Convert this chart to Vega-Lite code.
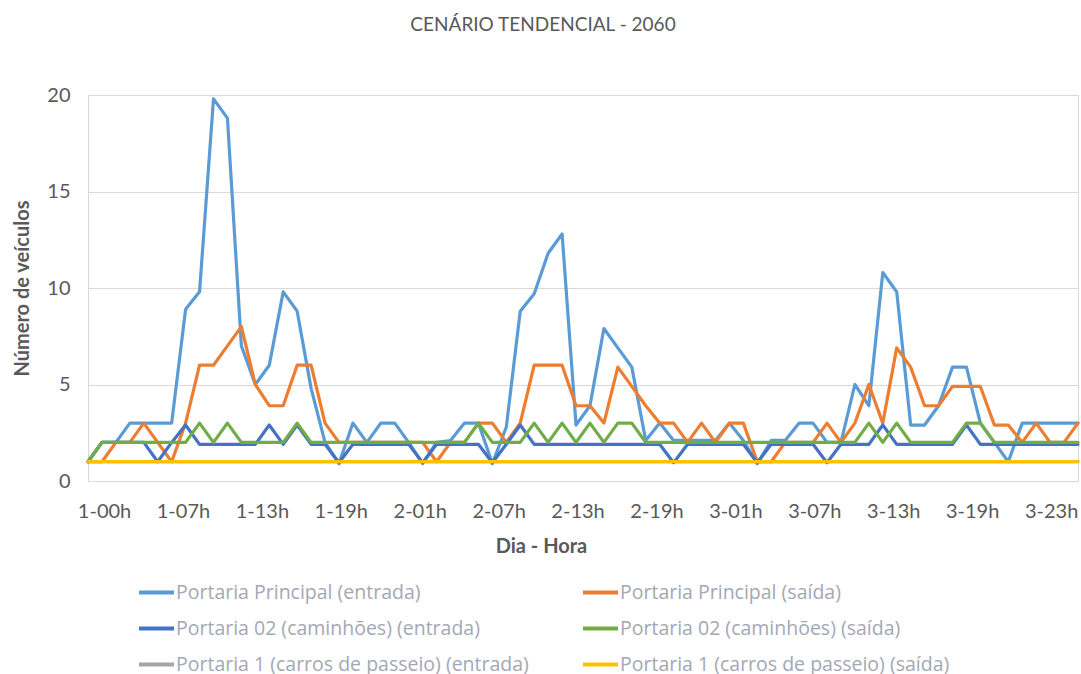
{
  "$schema": "https://vega.github.io/schema/vega-lite/v6.json",
  "width": 990,
  "height": 386,
  "autosize": {"type": "none"},
  "padding": {"left": 88, "top": 95, "right": 3, "bottom": 193},
  "background": "white",
  "config": {"font": "Lato", "view": {"stroke": "#D9D9D9", "strokeWidth": 1}},
  "title": {"text": "CENÁRIO TENDENCIAL - 2060", "fontSize": 19, "fontWeight": "normal", "color": "#595959", "anchor": "middle", "dx": -40, "offset": 50, "font": "Lato"},
  "data": {"values": [
    {"t":0,"pe":1,"ps":1,"ce":1,"cs":1,"p1e":1,"p1s":1},
    {"t":1,"pe":2,"ps":1,"ce":2,"cs":2,"p1e":1,"p1s":1},
    {"t":2,"pe":2,"ps":2,"ce":2,"cs":2,"p1e":1,"p1s":1},
    {"t":3,"pe":3,"ps":2,"ce":2,"cs":2,"p1e":1,"p1s":1},
    {"t":4,"pe":3,"ps":3,"ce":2,"cs":2,"p1e":1,"p1s":1},
    {"t":5,"pe":3,"ps":2,"ce":1,"cs":2,"p1e":1,"p1s":1},
    {"t":6,"pe":3,"ps":1,"ce":2,"cs":2,"p1e":1,"p1s":1},
    {"t":7,"pe":8.9,"ps":3,"ce":2.9,"cs":2,"p1e":1,"p1s":1},
    {"t":8,"pe":9.8,"ps":6,"ce":1.9,"cs":3,"p1e":1,"p1s":1},
    {"t":9,"pe":19.8,"ps":6,"ce":1.9,"cs":2,"p1e":1,"p1s":1},
    {"t":10,"pe":18.8,"ps":7,"ce":1.9,"cs":3,"p1e":1,"p1s":1},
    {"t":11,"pe":7,"ps":8,"ce":1.9,"cs":2,"p1e":1,"p1s":1},
    {"t":12,"pe":5,"ps":5,"ce":1.9,"cs":2,"p1e":1,"p1s":1},
    {"t":13,"pe":6,"ps":3.9,"ce":2.9,"cs":2,"p1e":1,"p1s":1},
    {"t":14,"pe":9.8,"ps":3.9,"ce":1.9,"cs":2,"p1e":1,"p1s":1},
    {"t":15,"pe":8.8,"ps":6,"ce":2.9,"cs":3,"p1e":1,"p1s":1},
    {"t":16,"pe":4.8,"ps":6,"ce":1.9,"cs":2,"p1e":1,"p1s":1},
    {"t":17,"pe":2,"ps":3,"ce":1.9,"cs":2,"p1e":1,"p1s":1},
    {"t":18,"pe":0.9,"ps":2,"ce":0.95,"cs":2,"p1e":1,"p1s":1},
    {"t":19,"pe":3,"ps":2,"ce":1.9,"cs":2,"p1e":1,"p1s":1},
    {"t":20,"pe":2,"ps":2,"ce":1.9,"cs":2,"p1e":1,"p1s":1},
    {"t":21,"pe":3,"ps":2,"ce":1.9,"cs":2,"p1e":1,"p1s":1},
    {"t":22,"pe":3,"ps":2,"ce":1.9,"cs":2,"p1e":1,"p1s":1},
    {"t":23,"pe":2,"ps":2,"ce":1.9,"cs":2,"p1e":1,"p1s":1},
    {"t":24,"pe":0.9,"ps":2,"ce":0.95,"cs":2,"p1e":1,"p1s":1},
    {"t":25,"pe":2,"ps":1,"ce":1.9,"cs":2,"p1e":1,"p1s":1},
    {"t":26,"pe":2.1,"ps":2,"ce":1.9,"cs":2,"p1e":1,"p1s":1},
    {"t":27,"pe":3,"ps":2,"ce":1.9,"cs":2,"p1e":1,"p1s":1},
    {"t":28,"pe":3,"ps":3,"ce":1.9,"cs":3,"p1e":1,"p1s":1},
    {"t":29,"pe":0.9,"ps":3,"ce":0.95,"cs":2,"p1e":1,"p1s":1},
    {"t":30,"pe":2.8,"ps":2,"ce":1.9,"cs":2,"p1e":1,"p1s":1},
    {"t":31,"pe":8.8,"ps":3,"ce":2.9,"cs":2,"p1e":1,"p1s":1},
    {"t":32,"pe":9.7,"ps":6,"ce":1.9,"cs":3,"p1e":1,"p1s":1},
    {"t":33,"pe":11.8,"ps":6,"ce":1.9,"cs":2,"p1e":1,"p1s":1},
    {"t":34,"pe":12.8,"ps":6,"ce":1.9,"cs":3,"p1e":1,"p1s":1},
    {"t":35,"pe":2.9,"ps":3.9,"ce":1.9,"cs":2,"p1e":1,"p1s":1},
    {"t":36,"pe":3.9,"ps":3.9,"ce":1.9,"cs":3,"p1e":1,"p1s":1},
    {"t":37,"pe":7.9,"ps":3,"ce":1.9,"cs":2,"p1e":1,"p1s":1},
    {"t":38,"pe":6.9,"ps":5.9,"ce":1.9,"cs":3,"p1e":1,"p1s":1},
    {"t":39,"pe":5.9,"ps":4.9,"ce":1.9,"cs":3,"p1e":1,"p1s":1},
    {"t":40,"pe":2.1,"ps":3.9,"ce":1.9,"cs":2,"p1e":1,"p1s":1},
    {"t":41,"pe":3,"ps":3,"ce":1.9,"cs":2,"p1e":1,"p1s":1},
    {"t":42,"pe":2.1,"ps":3,"ce":0.95,"cs":2,"p1e":1,"p1s":1},
    {"t":43,"pe":2.1,"ps":2,"ce":1.9,"cs":2,"p1e":1,"p1s":1},
    {"t":44,"pe":2.1,"ps":3,"ce":1.9,"cs":2,"p1e":1,"p1s":1},
    {"t":45,"pe":2.1,"ps":2,"ce":1.9,"cs":2,"p1e":1,"p1s":1},
    {"t":46,"pe":3,"ps":3,"ce":1.9,"cs":2,"p1e":1,"p1s":1},
    {"t":47,"pe":2.1,"ps":3,"ce":1.9,"cs":2,"p1e":1,"p1s":1},
    {"t":48,"pe":0.9,"ps":1,"ce":0.95,"cs":2,"p1e":1,"p1s":1},
    {"t":49,"pe":2.1,"ps":1,"ce":1.9,"cs":2,"p1e":1,"p1s":1},
    {"t":50,"pe":2.1,"ps":2,"ce":1.9,"cs":2,"p1e":1,"p1s":1},
    {"t":51,"pe":3,"ps":2,"ce":1.9,"cs":2,"p1e":1,"p1s":1},
    {"t":52,"pe":3,"ps":2,"ce":1.9,"cs":2,"p1e":1,"p1s":1},
    {"t":53,"pe":2,"ps":3,"ce":0.95,"cs":2,"p1e":1,"p1s":1},
    {"t":54,"pe":2,"ps":2,"ce":1.9,"cs":2,"p1e":1,"p1s":1},
    {"t":55,"pe":5,"ps":3,"ce":1.9,"cs":2,"p1e":1,"p1s":1},
    {"t":56,"pe":3.9,"ps":5,"ce":1.9,"cs":3,"p1e":1,"p1s":1},
    {"t":57,"pe":10.8,"ps":3,"ce":2.9,"cs":2,"p1e":1,"p1s":1},
    {"t":58,"pe":9.8,"ps":6.9,"ce":1.9,"cs":3,"p1e":1,"p1s":1},
    {"t":59,"pe":2.9,"ps":5.9,"ce":1.9,"cs":2,"p1e":1,"p1s":1},
    {"t":60,"pe":2.9,"ps":3.9,"ce":1.9,"cs":2,"p1e":1,"p1s":1},
    {"t":61,"pe":3.9,"ps":3.9,"ce":1.9,"cs":2,"p1e":1,"p1s":1},
    {"t":62,"pe":5.9,"ps":4.9,"ce":1.9,"cs":2,"p1e":1,"p1s":1},
    {"t":63,"pe":5.9,"ps":4.9,"ce":2.9,"cs":3,"p1e":1,"p1s":1},
    {"t":64,"pe":3,"ps":4.9,"ce":1.9,"cs":3,"p1e":1,"p1s":1},
    {"t":65,"pe":2,"ps":2.9,"ce":1.9,"cs":2,"p1e":1,"p1s":1},
    {"t":66,"pe":1,"ps":2.9,"ce":1.9,"cs":2,"p1e":1,"p1s":1},
    {"t":67,"pe":3,"ps":2,"ce":1.9,"cs":2,"p1e":1,"p1s":1},
    {"t":68,"pe":3,"ps":3,"ce":1.9,"cs":2,"p1e":1,"p1s":1},
    {"t":69,"pe":3,"ps":2,"ce":1.9,"cs":2,"p1e":1,"p1s":1},
    {"t":70,"pe":3,"ps":2,"ce":1.9,"cs":2,"p1e":1,"p1s":1},
    {"t":71,"pe":3,"ps":3,"ce":1.9,"cs":2,"p1e":1,"p1s":1}
  ]},
  "transform": [{"fold": ["pe", "ps", "ce", "cs", "p1e", "p1s"], "as": ["serie", "v"]}],
  "mark": {"type": "line", "strokeWidth": 3.2, "strokeJoin": "round", "strokeCap": "round"},
  "encoding": {
    "x": {
      "field": "t", "type": "quantitative",
      "scale": {"domain": [0, 71], "nice": false, "zero": false},
      "axis": {
        "values": [1.15, 6.81, 12.47, 18.13, 23.79, 29.45, 35.11, 40.77, 46.43, 52.09, 57.75, 63.41, 69.07],
        "labelExpr": "['1-00h','1-07h','1-13h','1-19h','2-01h','2-07h','2-13h','2-19h','3-01h','3-07h','3-13h','3-19h','3-23h'][round((datum.value-1.15)/5.66)]",
        "grid": false, "ticks": false, "domain": false,
        "labelFontSize": 20, "labelColor": "#595959", "labelPadding": 20, "labelFlush": false, "labelOverlap": false,
        "title": "Dia - Hora", "titleFontSize": 20, "titleFontWeight": "bold", "titleColor": "#595959", "titlePadding": 15, "titleX": 453
      }
    },
    "y": {
      "field": "v", "type": "quantitative",
      "scale": {"domain": [0, 20], "nice": false},
      "axis": {
        "values": [0, 5, 10, 15, 20],
        "grid": true, "gridColor": "#D9D9D9", "domain": false, "ticks": false,
        "labelFontSize": 20, "labelColor": "#595959", "labelPadding": 18,
        "title": "Número de veículos", "titleFontSize": 20, "titleFontWeight": "bold", "titleColor": "#595959", "titlePadding": 14
      }
    },
    "color": {
      "field": "serie", "type": "nominal",
      "scale": {
        "domain": ["pe", "ce", "p1e", "ps", "cs", "p1s"],
        "range": ["#5B9BD5", "#4472C4", "#A5A5A5", "#ED7D31", "#70AD47", "#FFC000"]
      },
      "legend": {
        "orient": "none", "legendX": 49, "legendY": 478, "columns": 2, "title": null,
        "symbolType": "stroke", "symbolSize": 1225, "symbolStrokeWidth": 4,
        "labelFont": "Open Sans", "labelFontSize": 19.5, "labelColor": "#A3A8B4", "labelLimit": 600, "labelOffset": 0,
        "columnPadding": 46, "rowPadding": 7,
        "labelExpr": "datum.label == 'pe' ? 'Portaria Principal (entrada)' : datum.label == 'ps' ? 'Portaria Principal (saída)' : datum.label == 'ce' ? 'Portaria 02 (caminhões) (entrada)' : datum.label == 'cs' ? 'Portaria 02 (caminhões) (saída)' : datum.label == 'p1e' ? 'Portaria 1 (carros de passeio) (entrada)' : 'Portaria 1 (carros de passeio) (saída)'"
      }
    }
  }
}
